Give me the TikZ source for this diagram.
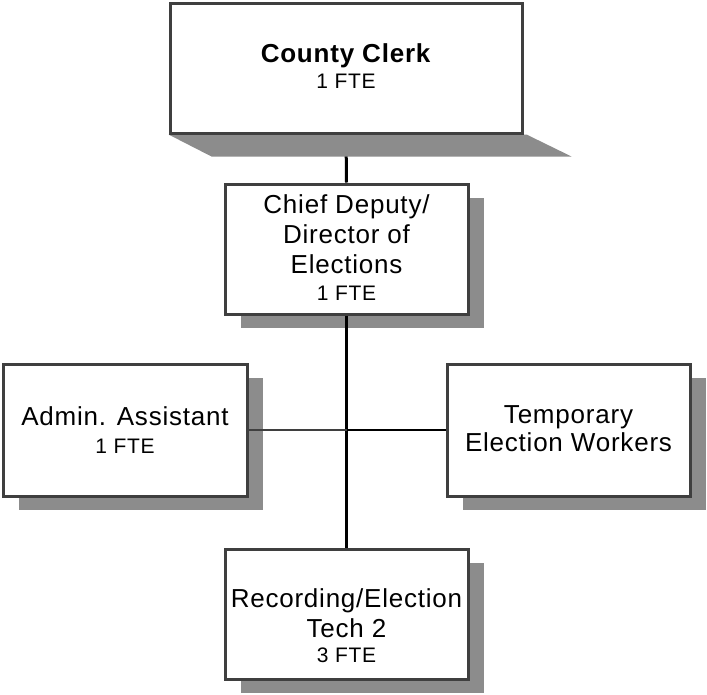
\documentclass[tikz,border=0pt]{standalone}
\usepackage{fontspec}
\setmainfont{Liberation Sans}[LetterSpace=3]
\usetikzlibrary{calc,shadows}
\definecolor{boxline}{HTML}{3F3F3F}
\definecolor{shadowgray}{HTML}{8C8C8C}
\newcommand\ftesize{\fontsize{21}{25}\selectfont}
\pgfdeclarelayer{back}
\pgfsetlayers{back,main}
\begin{document}
\begin{tikzpicture}[x=1pt,y=-1pt]
\tikzset{
  box/.style={rectangle, draw=boxline, line width=3pt, fill=white, inner sep=0pt,
              minimum width=243pt, minimum height=130pt},
  shadowed/.style={drop shadow={shadow xshift=16pt, shadow yshift=-14pt,
              fill=shadowgray, opacity=1}},
  lbl/.style={align=center, inner sep=0pt, font=\fontsize{26}{30}\selectfont},
  wire/.style={draw=black, line width=3pt},
  thinwire/.style={line width=2.5pt},
}
\useasboundingbox (0,0) rectangle (707,694);

% boxes
\node[box, minimum width=352pt] (cc) at (346,68) {};
\node[box, shadowed] (chief) at (346.5,249) {};
\node[box, shadowed, minimum width=244pt, minimum height=132pt] (admin) at (125,430) {};
\node[box, shadowed, minimum height=132pt] (temp) at (568.5,430) {};
\node[box, shadowed] (rec) at (346.5,614) {};

% labels
\node[lbl] (cc-t) at (346,66) {\textbf{County Clerk}\\[-4pt]{\ftesize 1 FTE}};
\node[lbl] (chief-t) at (346.5,248) {Chief Deputy/\\Director of\\Elections\\[-3pt]{\ftesize 1 FTE}};
\node[lbl] (admin-t) at (125,430) {Admin. Assistant\\[-2pt]{\ftesize 1 FTE}};
\node[lbl] (temp-t) at (568.5,428.5) {Temporary\\[-2pt]Election Workers};
\node[lbl] (rec-t) at (346.5,626) {Recording/Election\\Tech 2\\[-5pt]{\ftesize 3 FTE}};

% top connector runs under the slanted shadow of the top box
\begin{pgfonlayer}{back}
  \draw[wire] (cc.south) -- (chief.north);
  \fill[shadowgray] (cc.south west) -- ($(cc.south east)+(3,0)$)
        -- ($(cc.south east)+(48,22)$) -- ($(cc.south west)+(43,22)$) -- cycle;
\end{pgfonlayer}

% remaining connectors
\coordinate (hub) at (chief.south |- admin.east);
\draw[wire] (chief.south) -- (rec.north);
\draw[thinwire, draw=boxline] (admin.east) -- (hub);
\draw[thinwire, draw=black] (hub) -- (temp.west);
\end{tikzpicture}
\end{document}
